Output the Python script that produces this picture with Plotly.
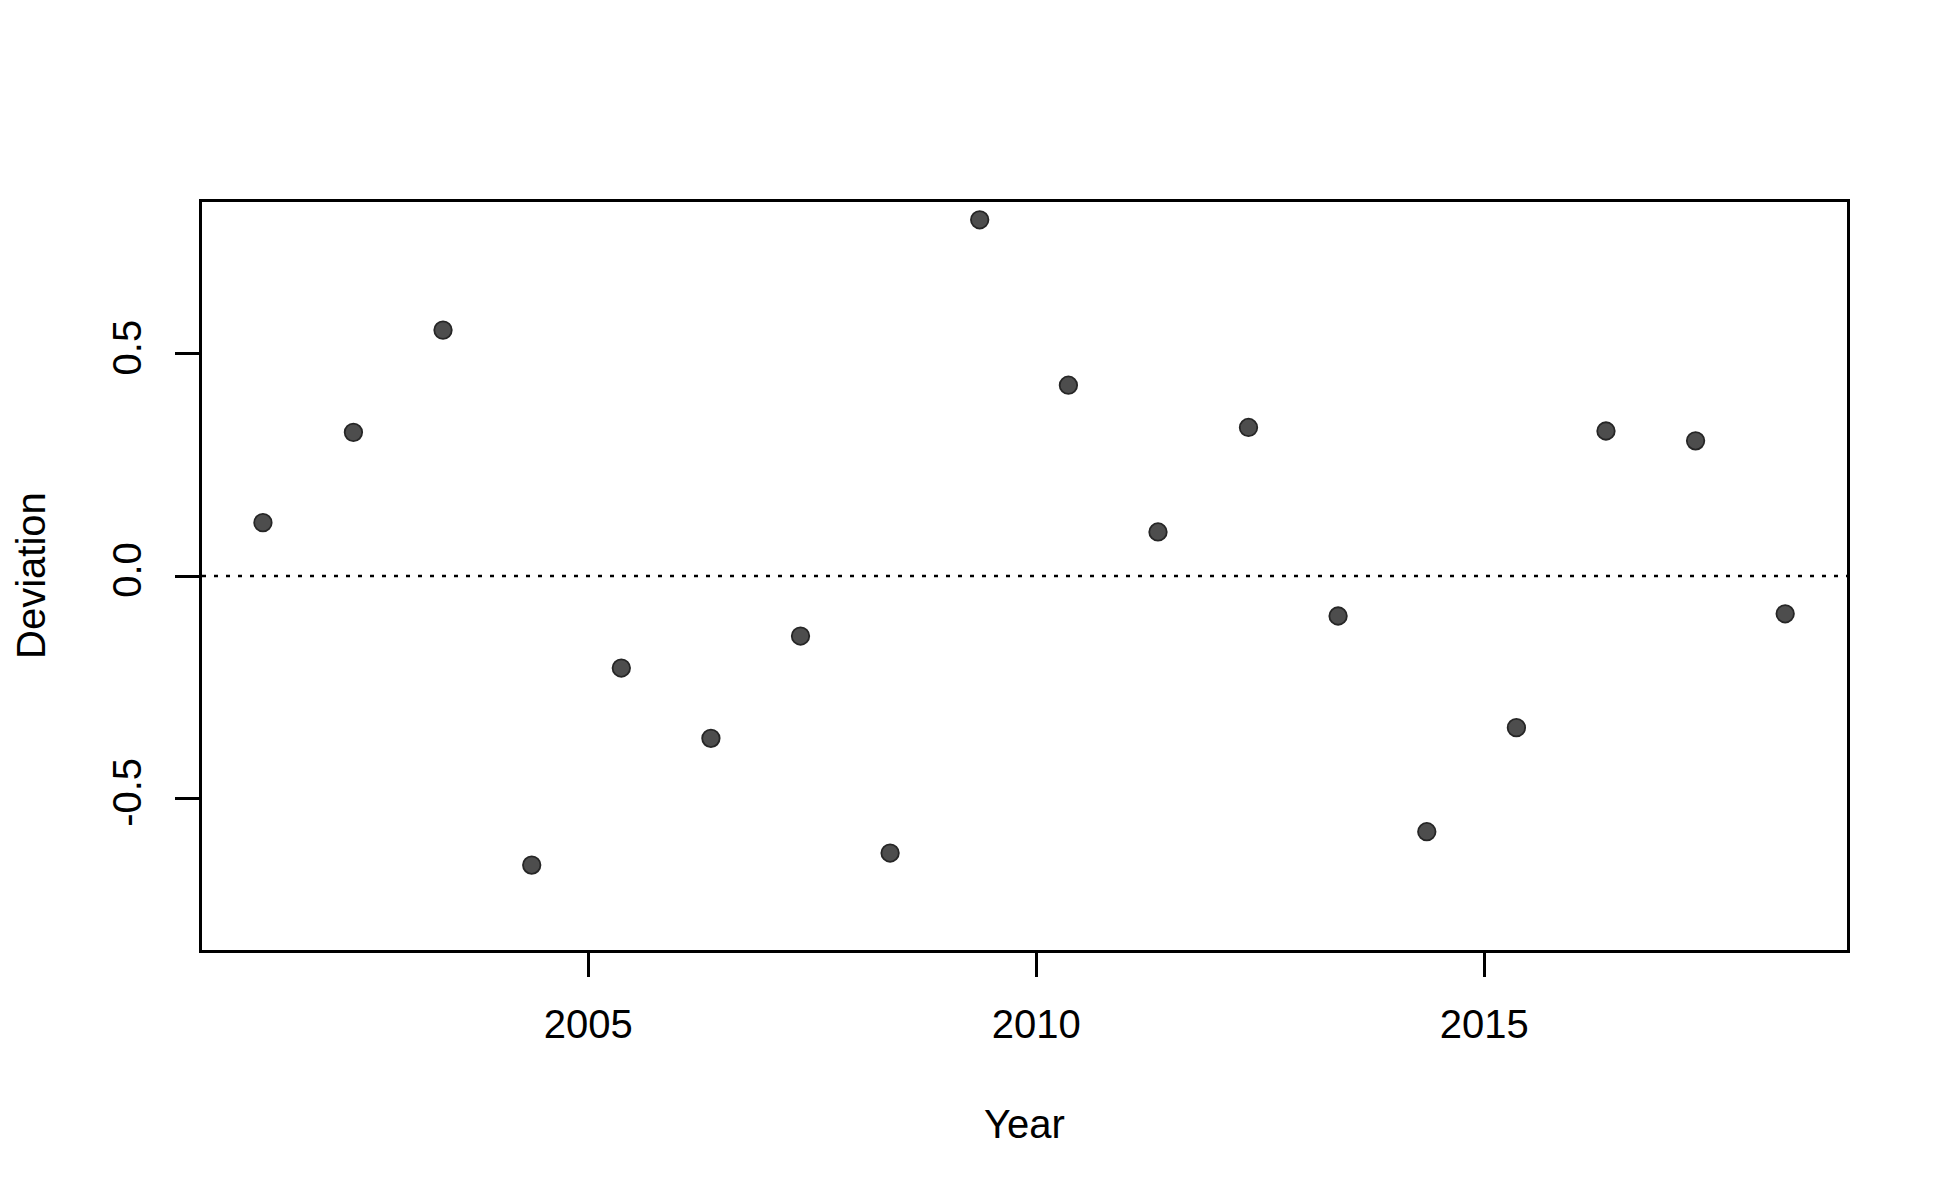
import plotly.graph_objects as go

# Data
years = [2001.37, 2002.38, 2003.38, 2004.37, 2005.37, 2006.37, 2007.37, 2008.37, 2009.37,
         2010.36, 2011.36, 2012.37, 2013.37, 2014.36, 2015.36, 2016.36, 2017.36, 2018.36]
deviation = [0.120, 0.323, 0.553, -0.650, -0.207, -0.365, -0.135, -0.623, 0.801,
             0.429, 0.099, 0.334, -0.090, -0.575, -0.341, 0.326, 0.304, -0.085]

x_ticks = [2005, 2010, 2015]
y_ticks = [-0.5, 0.0, 0.5]
y_tick_labels = ["-0.5", "0.0", "0.5"]

FONT = "Liberation Sans, Arial, sans-serif"
FS = 40
LW = 2.6

fig = go.Figure()
fig.add_trace(go.Scatter(
    x=years, y=deviation, mode="markers",
    marker=dict(size=17.5, color="#4d4d4d", line=dict(color="#262626", width=1.8)),
    showlegend=False, hoverinfo="skip",
))

# dotted zero reference line
fig.add_shape(type="line", xref="paper", yref="y", x0=0, x1=1, y0=0, y1=0,
              line=dict(color="black", width=LW, dash="4px,8px"))

fig.update_layout(
    width=1950, height=1200,
    margin=dict(l=202, r=103, t=202, b=250),
    paper_bgcolor="white", plot_bgcolor="white",
    font=dict(family=FONT, size=FS, color="black"),
    xaxis=dict(range=[2000.69, 2019.05], tickvals=x_ticks, ticktext=[str(v) for v in x_ticks],
               showgrid=False, zeroline=False, showline=True, mirror=True,
               linecolor="black", linewidth=LW, ticks="outside", ticklen=24,
               tickwidth=LW, tickcolor="black", ticklabelstandoff=13,
               tickfont=dict(family=FONT, size=FS, color="black")),
    yaxis=dict(range=[-0.841, 0.841], tickvals=y_ticks, ticktext=y_tick_labels,
               showgrid=False, zeroline=False, showline=True, mirror=True,
               linecolor="black", linewidth=LW, ticks="outside", ticklen=24,
               tickwidth=LW, tickcolor="black", tickangle=-90, ticklabelstandoff=18,
               tickfont=dict(family=FONT, size=FS, color="black")),
    annotations=[
        dict(text="Year", xref="paper", yref="paper", x=0.5, y=0, yshift=-174,
             xanchor="center", yanchor="middle", showarrow=False,
             font=dict(family=FONT, size=FS, color="black")),
        dict(text="Deviation", xref="paper", yref="paper", x=0, y=0.5, xshift=-171,
             xanchor="center", yanchor="middle", textangle=-90, showarrow=False,
             font=dict(family=FONT, size=FS, color="black")),
    ],
)

fig.write_html("out.html", config={"displayModeBar": False},
               post_script="document.body.style.margin='0';")
